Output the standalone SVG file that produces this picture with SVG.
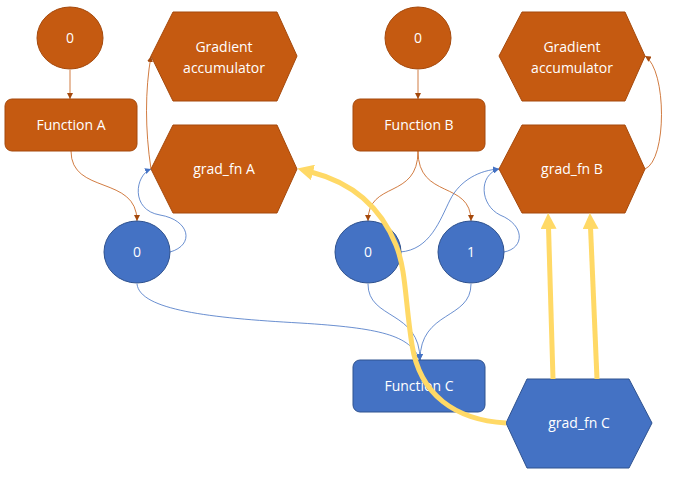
<svg xmlns="http://www.w3.org/2000/svg" width="684" height="480" viewBox="0 0 684 480">
<defs>
<style>
.or{fill:#C55A11;stroke:#A5490C;stroke-width:1}
.bl{fill:#4472C4;stroke:#2F528F;stroke-width:1}
.t{fill:#fff;font-family:"Open Sans","Liberation Sans",sans-serif;font-size:14px;text-anchor:middle}
.cb{fill:none;stroke:#C55A11;stroke-width:0.8}
.cl{fill:none;stroke:#4472C4;stroke-width:0.8}
.y{fill:none;stroke:#FFD966;stroke-width:5}
</style>
<marker id="mb" viewBox="0 0 6 6" refX="6" refY="3" markerWidth="6" markerHeight="6" markerUnits="userSpaceOnUse" orient="auto"><path d="M0,0L6,3L0,6z" fill="#A5490C"/></marker>
<marker id="ml" viewBox="0 0 6 6" refX="6" refY="3" markerWidth="6" markerHeight="6" markerUnits="userSpaceOnUse" orient="auto"><path d="M0,0L6,3L0,6z" fill="#4472C4"/></marker>
<marker id="my" viewBox="0 0 16 16" refX="2" refY="8" markerWidth="16" markerHeight="16" markerUnits="userSpaceOnUse" orient="auto"><path d="M0,0L16,8L0,16z" fill="#FFD966"/></marker>
</defs>
<rect width="684" height="480" fill="#fff"/>
<g id="connectors">
<path class="cb" d="M70,70L70,99" marker-end="url(#mb)"/>
<path class="cb" d="M71,151C71,195 137,175 137,221" marker-end="url(#mb)"/>
<path class="cl" d="M170,252C195,245 190,220 160,215C130,210 135,175 151,169" marker-end="url(#ml)"/>
<path class="cb" d="M151,169C145,130 145,90 151,56" marker-end="url(#mb)"/>
<path class="cb" d="M418,70L418,99" marker-end="url(#mb)"/>
<path class="cb" d="M418,151C418,200 368,180 368,221" marker-end="url(#mb)"/>
<path class="cb" d="M418,151C418,200 471,180 471,221" marker-end="url(#mb)"/>
<path class="cl" d="M400,252C430,250 440,220 450,200C460,180 480,170 499,169" marker-end="url(#ml)"/>
<path class="cl" d="M504,252C525,248 525,225 500,215C480,205 478,175 499,169" marker-end="url(#ml)"/>
<path class="cb" d="M645,169C667,160 667,70 645,56" marker-end="url(#mb)"/>
<path class="cl" d="M137,284C140,310 210,318 300,323C380,328 410,335 420,360" marker-end="url(#ml)"/>
<path class="cl" d="M368,284C368,320 420,310 420,360" marker-end="url(#ml)"/>
<path class="cl" d="M471,284C471,320 420,310 420,360" marker-end="url(#ml)"/>
</g>
<g id="n0a" ><ellipse class="or" cx="70" cy="38" rx="33" ry="31"/><text class="t" x="70" y="43">0</text></g>
<g id="fa"><rect class="or" x="5" y="99" width="132" height="52" rx="7"/><text class="t" x="71" y="130">Function A</text></g>
<g id="gaa"><polygon class="or" points="151,56 173,12 277,12 297,56 277,101 173,101"/><text class="t" x="224" y="52">Gradient</text><text class="t" x="224" y="73">accumulator</text></g>
<g id="gfa"><polygon class="or" points="151,169 173,125 277,125 297,169 277,213 173,213"/><text class="t" x="224" y="174">grad_fn A</text></g>
<g id="n0b"><ellipse class="or" cx="418" cy="38" rx="33" ry="31"/><text class="t" x="418" y="43">0</text></g>
<g id="fb"><rect class="or" x="353" y="99" width="132" height="52" rx="7"/><text class="t" x="419" y="130">Function B</text></g>
<g id="gab"><polygon class="or" points="499,56 522,12 625,12 645,56 625,101 522,101"/><text class="t" x="572" y="52">Gradient</text><text class="t" x="572" y="73">accumulator</text></g>
<g id="gfb"><polygon class="or" points="499,169 522,125 625,125 645,169 625,213 522,213"/><text class="t" x="572" y="174">grad_fn B</text></g>
<g id="ca"><ellipse class="bl" cx="137" cy="252" rx="33" ry="31"/><text class="t" x="137" y="257">0</text></g>
<g id="cb0"><ellipse class="bl" cx="368" cy="252" rx="33" ry="31"/><text class="t" x="368" y="257">0</text></g>
<g id="cb1"><ellipse class="bl" cx="471" cy="252" rx="33" ry="31"/><text class="t" x="471" y="257">1</text></g>
<g id="fc"><rect class="bl" x="353" y="360" width="132" height="52" rx="7"/><text class="t" x="419" y="391">Function C</text></g>
<g id="gfc"><polygon class="bl" points="506,423 527,379 629,379 652,423 629,468 527,468"/><text class="t" x="579" y="428">grad_fn C</text></g>
<g id="gradflow">
<path class="y" d="M506,423C455,420 420,395 412,345C405,300 406,270 396,245C380,205 350,182 311,172" marker-end="url(#my)"/>
<path class="y" d="M553,379L548.5,227" marker-end="url(#my)"/>
<path class="y" d="M597,379L590.5,227" marker-end="url(#my)"/>
</g>
</svg>
